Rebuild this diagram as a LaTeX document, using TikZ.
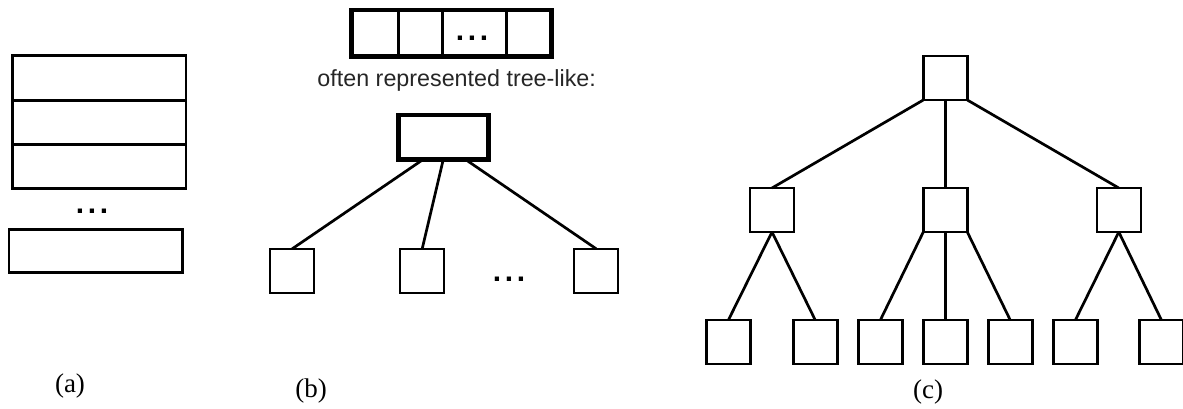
\documentclass[tikz,border=0pt]{standalone}
\usepackage{fontspec}
\setmainfont{Liberation Serif}
\newfontfamily\arialfont{Liberation Sans}
\usetikzlibrary{calc}
\begin{document}
\begin{tikzpicture}[x=1pt,y=-1pt,
  cell/.style={draw, line width=2.5pt, inner sep=0pt, outer sep=0pt},
  sq/.style={cell, minimum width=44pt, minimum height=44pt},
  thickbox/.style={draw, line width=4.6pt, inner sep=0pt, outer sep=0pt},
  edge/.style={line width=2.7pt},
  dotsnode/.style={inner sep=0pt, font=\arialfont\bfseries\fontsize{30}{30}\selectfont},
  caption/.style={inner sep=0pt, font=\fontsize{27}{30}\selectfont},
  note/.style={inner sep=0pt, font=\arialfont\fontsize{23.3}{26}\selectfont, text=black!85}
]
\useasboundingbox (0,0) rectangle (1183,408);
\fill[white] (0,0) rectangle (1183,408);

% ---------- panel (a)
\node[cell, minimum width=173.3pt, minimum height=45pt] (a1) at (99.3,78.2) {};
\node[cell, minimum width=173.3pt, minimum height=44pt] (a2) at (99.3,122.7) {};
\node[cell, minimum width=173.3pt, minimum height=43.6pt] (a3) at (99.3,166.5) {};
\node[dotsnode] (adots) at (92,211) {.\hspace{3.7pt}.\hspace{3.7pt}.};
\node[cell, minimum width=173.7pt, minimum height=43.4pt] (a4) at (95.8,251) {};
\node[caption] (la) at (70,386) {(a)};

% ---------- panel (b)
\node[cell, minimum width=46.6pt, minimum height=46.7pt] (b1) at (375,33.3) {};
\node[cell, minimum width=44.4pt, minimum height=46.7pt] (b2) at (420.5,33.3) {};
\node[cell, minimum width=64pt, minimum height=46.7pt] (b3) at (474.7,33.3) {};
\node[cell, minimum width=45pt, minimum height=46.7pt] (b4) at (529.2,33.3) {};
\node[thickbox, minimum width=200pt, minimum height=46.7pt] (arr) at (451.7,33.3) {};
\node[dotsnode] (bdots1) at (472,38) {.\hspace{3.7pt}.\hspace{3.7pt}.};
\node[note] (txt) at (456.7,80) {often represented tree-like:};

\node[thickbox, minimum width=90pt, minimum height=44.3pt] (broot) at (443.3,137.2) {};
\node[sq] (bc1) at (292.2,270.8) {};
\node[sq] (bc2) at (422.2,270.8) {};
\node[sq] (bc3) at (596.2,270.8) {};
\node[dotsnode] (bdots2) at (509,279) {.\hspace{3.7pt}.\hspace{3.7pt}.};
\draw[edge] ($(broot.south)+(-20,0)$) -- (bc1.north);
\draw[edge] (broot.south) -- (bc2.north);
\draw[edge] ($(broot.south)+(22,0)$) -- (bc3.north);
\node[caption] (lb) at (311,391) {(b)};

% ---------- panel (c)
\node[sq] (croot) at (945.3,78) {};
\node[sq] (cl) at (772,210) {};
\node[sq] (cm) at (945.3,210) {};
\node[sq] (cr) at (1118.8,210) {};
\node[sq] (c1) at (728.3,342.2) {};
\node[sq] (c2) at (815.3,342.2) {};
\node[sq] (c3) at (880.3,342.2) {};
\node[sq] (c4) at (945.3,342.2) {};
\node[sq] (c5) at (1010.3,342.2) {};
\node[sq] (c6) at (1075.3,342.2) {};
\node[sq] (c7) at (1161.5,342.2) {};
\draw[edge] (croot.south west) -- (cl.north);
\draw[edge] (croot.south) -- (cm.north);
\draw[edge] (croot.south east) -- (cr.north);
\draw[edge] (cl.south) -- (c1.north);
\draw[edge] (cl.south) -- (c2.north);
\draw[edge] (cm.south west) -- (c3.north);
\draw[edge] (cm.south) -- (c4.north);
\draw[edge] (cm.south east) -- (c5.north);
\draw[edge] (cr.south) -- (c6.north);
\draw[edge] (cr.south) -- (c7.north);
\node[caption] (lc) at (928,392) {(c)};
\end{tikzpicture}
\end{document}
